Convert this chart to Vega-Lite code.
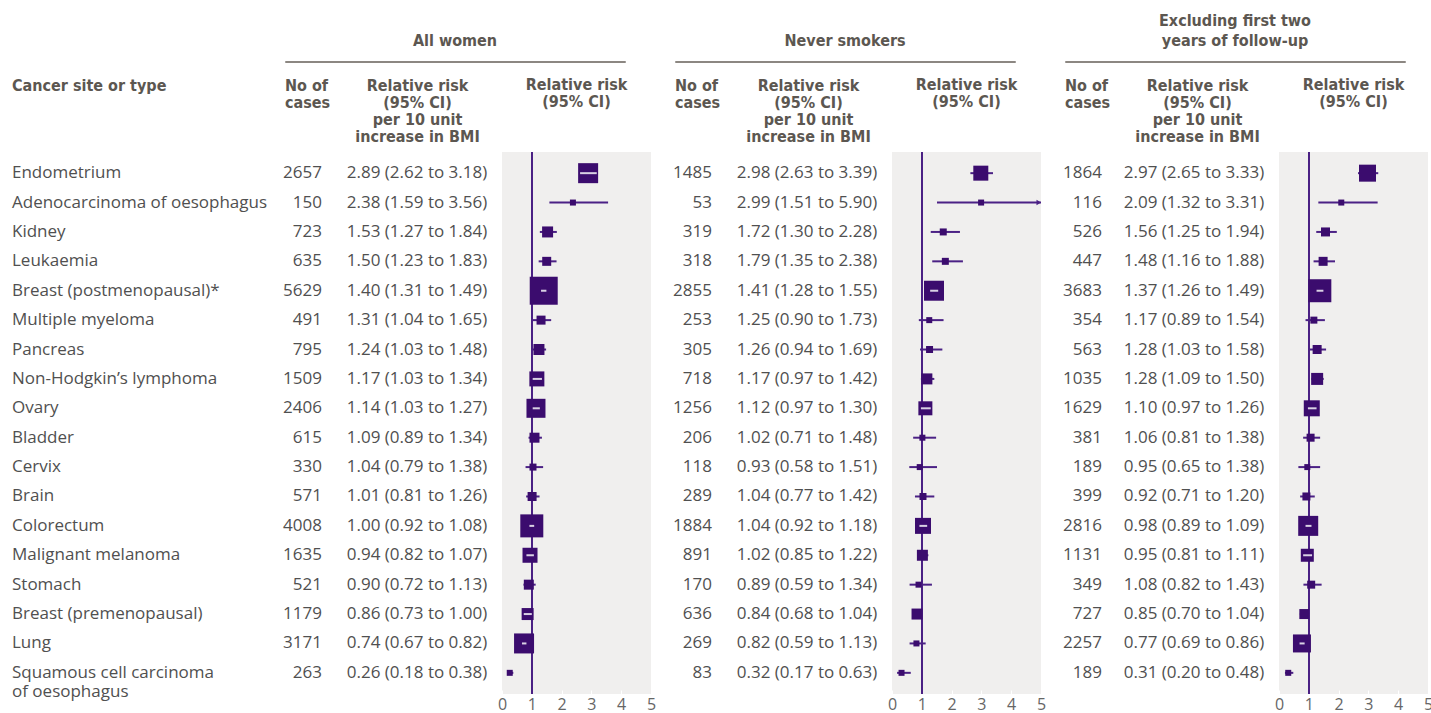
{
  "$schema": "https://vega.github.io/schema/vega-lite/v6.json",
  "padding": {"left": 12, "top": 12, "right": 0, "bottom": 10},
  "bounds": "flush",
  "spacing": 91,
  "config": {
    "view": {"stroke": null},
    "font": "Open Sans",
    "text": {"font": "Open Sans", "fontSize": 17, "color": "#505050"},
    "title": {"font": "DejaVu Sans Condensed, Roboto, sans-serif", "fontSize": 16, "fontWeight": "bold", "color": "#5c5751", "lineHeight": 17, "frame": "group"},
    "axisX": {"domain": false, "grid": false, "tickColor": "#ffffff", "tickSize": -4, "tickCount": 5, "labelFont": "Open Sans", "labelFontSize": 16, "labelColor": "#666666", "labelPadding": 6, "labelFlush": false}
  },
  "datasets": {
    "d": [
      {"g": "AW", "site": "Endometrium", "n": 2657, "rr": 2.89, "lo": 2.62, "hi": 3.18, "w": 20, "ci": "2.89 (2.62 to 3.18)"},
      {"g": "AW", "site": "Adenocarcinoma of oesophagus", "n": 150, "rr": 2.38, "lo": 1.59, "hi": 3.56, "w": 6, "ci": "2.38 (1.59 to 3.56)"},
      {"g": "AW", "site": "Kidney", "n": 723, "rr": 1.53, "lo": 1.27, "hi": 1.84, "w": 11, "ci": "1.53 (1.27 to 1.84)"},
      {"g": "AW", "site": "Leukaemia", "n": 635, "rr": 1.50, "lo": 1.23, "hi": 1.83, "w": 9, "ci": "1.50 (1.23 to 1.83)"},
      {"g": "AW", "site": "Breast (postmenopausal)*", "n": 5629, "rr": 1.40, "lo": 1.31, "hi": 1.49, "w": 28, "ci": "1.40 (1.31 to 1.49)"},
      {"g": "AW", "site": "Multiple myeloma", "n": 491, "rr": 1.31, "lo": 1.04, "hi": 1.65, "w": 9, "ci": "1.31 (1.04 to 1.65)"},
      {"g": "AW", "site": "Pancreas", "n": 795, "rr": 1.24, "lo": 1.03, "hi": 1.48, "w": 11, "ci": "1.24 (1.03 to 1.48)"},
      {"g": "AW", "site": "Non-Hodgkin’s lymphoma", "n": 1509, "rr": 1.17, "lo": 1.03, "hi": 1.34, "w": 15, "ci": "1.17 (1.03 to 1.34)"},
      {"g": "AW", "site": "Ovary", "n": 2406, "rr": 1.14, "lo": 1.03, "hi": 1.27, "w": 19, "ci": "1.14 (1.03 to 1.27)"},
      {"g": "AW", "site": "Bladder", "n": 615, "rr": 1.09, "lo": 0.89, "hi": 1.34, "w": 10, "ci": "1.09 (0.89 to 1.34)"},
      {"g": "AW", "site": "Cervix", "n": 330, "rr": 1.04, "lo": 0.79, "hi": 1.38, "w": 7, "ci": "1.04 (0.79 to 1.38)"},
      {"g": "AW", "site": "Brain", "n": 571, "rr": 1.01, "lo": 0.81, "hi": 1.26, "w": 9, "ci": "1.01 (0.81 to 1.26)"},
      {"g": "AW", "site": "Colorectum", "n": 4008, "rr": 1.00, "lo": 0.92, "hi": 1.08, "w": 23, "ci": "1.00 (0.92 to 1.08)"},
      {"g": "AW", "site": "Malignant melanoma", "n": 1635, "rr": 0.94, "lo": 0.82, "hi": 1.07, "w": 15, "ci": "0.94 (0.82 to 1.07)"},
      {"g": "AW", "site": "Stomach", "n": 521, "rr": 0.90, "lo": 0.72, "hi": 1.13, "w": 10, "ci": "0.90 (0.72 to 1.13)"},
      {"g": "AW", "site": "Breast (premenopausal)", "n": 1179, "rr": 0.86, "lo": 0.73, "hi": 1.00, "w": 12, "ci": "0.86 (0.73 to 1.00)"},
      {"g": "AW", "site": "Lung", "n": 3171, "rr": 0.74, "lo": 0.67, "hi": 0.82, "w": 20, "ci": "0.74 (0.67 to 0.82)"},
      {"g": "AW", "site": "Squamous cell carcinoma\nof oesophagus", "n": 263, "rr": 0.26, "lo": 0.18, "hi": 0.38, "w": 6, "ci": "0.26 (0.18 to 0.38)"},

      {"g": "NS", "site": "Endometrium", "n": 1485, "rr": 2.98, "lo": 2.63, "hi": 3.39, "w": 15, "ci": "2.98 (2.63 to 3.39)"},
      {"g": "NS", "site": "Adenocarcinoma of oesophagus", "n": 53, "rr": 2.99, "lo": 1.51, "hi": 5.90, "w": 6, "ci": "2.99 (1.51 to 5.90)"},
      {"g": "NS", "site": "Kidney", "n": 319, "rr": 1.72, "lo": 1.30, "hi": 2.28, "w": 7, "ci": "1.72 (1.30 to 2.28)"},
      {"g": "NS", "site": "Leukaemia", "n": 318, "rr": 1.79, "lo": 1.35, "hi": 2.38, "w": 7, "ci": "1.79 (1.35 to 2.38)"},
      {"g": "NS", "site": "Breast (postmenopausal)*", "n": 2855, "rr": 1.41, "lo": 1.28, "hi": 1.55, "w": 20, "ci": "1.41 (1.28 to 1.55)"},
      {"g": "NS", "site": "Multiple myeloma", "n": 253, "rr": 1.25, "lo": 0.90, "hi": 1.73, "w": 6, "ci": "1.25 (0.90 to 1.73)"},
      {"g": "NS", "site": "Pancreas", "n": 305, "rr": 1.26, "lo": 0.94, "hi": 1.69, "w": 7, "ci": "1.26 (0.94 to 1.69)"},
      {"g": "NS", "site": "Non-Hodgkin’s lymphoma", "n": 718, "rr": 1.17, "lo": 0.97, "hi": 1.42, "w": 11, "ci": "1.17 (0.97 to 1.42)"},
      {"g": "NS", "site": "Ovary", "n": 1256, "rr": 1.12, "lo": 0.97, "hi": 1.30, "w": 14, "ci": "1.12 (0.97 to 1.30)"},
      {"g": "NS", "site": "Bladder", "n": 206, "rr": 1.02, "lo": 0.71, "hi": 1.48, "w": 6, "ci": "1.02 (0.71 to 1.48)"},
      {"g": "NS", "site": "Cervix", "n": 118, "rr": 0.93, "lo": 0.58, "hi": 1.51, "w": 6, "ci": "0.93 (0.58 to 1.51)"},
      {"g": "NS", "site": "Brain", "n": 289, "rr": 1.04, "lo": 0.77, "hi": 1.42, "w": 7, "ci": "1.04 (0.77 to 1.42)"},
      {"g": "NS", "site": "Colorectum", "n": 1884, "rr": 1.04, "lo": 0.92, "hi": 1.18, "w": 16, "ci": "1.04 (0.92 to 1.18)"},
      {"g": "NS", "site": "Malignant melanoma", "n": 891, "rr": 1.02, "lo": 0.85, "hi": 1.22, "w": 11, "ci": "1.02 (0.85 to 1.22)"},
      {"g": "NS", "site": "Stomach", "n": 170, "rr": 0.89, "lo": 0.59, "hi": 1.34, "w": 6, "ci": "0.89 (0.59 to 1.34)"},
      {"g": "NS", "site": "Breast (premenopausal)", "n": 636, "rr": 0.84, "lo": 0.68, "hi": 1.04, "w": 11, "ci": "0.84 (0.68 to 1.04)"},
      {"g": "NS", "site": "Lung", "n": 269, "rr": 0.82, "lo": 0.59, "hi": 1.13, "w": 6, "ci": "0.82 (0.59 to 1.13)"},
      {"g": "NS", "site": "Squamous cell carcinoma\nof oesophagus", "n": 83, "rr": 0.32, "lo": 0.17, "hi": 0.63, "w": 6, "ci": "0.32 (0.17 to 0.63)"},

      {"g": "EX", "site": "Endometrium", "n": 1864, "rr": 2.97, "lo": 2.65, "hi": 3.33, "w": 17, "ci": "2.97 (2.65 to 3.33)"},
      {"g": "EX", "site": "Adenocarcinoma of oesophagus", "n": 116, "rr": 2.09, "lo": 1.32, "hi": 3.31, "w": 6, "ci": "2.09 (1.32 to 3.31)"},
      {"g": "EX", "site": "Kidney", "n": 526, "rr": 1.56, "lo": 1.25, "hi": 1.94, "w": 9, "ci": "1.56 (1.25 to 1.94)"},
      {"g": "EX", "site": "Leukaemia", "n": 447, "rr": 1.48, "lo": 1.16, "hi": 1.88, "w": 9, "ci": "1.48 (1.16 to 1.88)"},
      {"g": "EX", "site": "Breast (postmenopausal)*", "n": 3683, "rr": 1.37, "lo": 1.26, "hi": 1.49, "w": 23, "ci": "1.37 (1.26 to 1.49)"},
      {"g": "EX", "site": "Multiple myeloma", "n": 354, "rr": 1.17, "lo": 0.89, "hi": 1.54, "w": 7, "ci": "1.17 (0.89 to 1.54)"},
      {"g": "EX", "site": "Pancreas", "n": 563, "rr": 1.28, "lo": 1.03, "hi": 1.58, "w": 9, "ci": "1.28 (1.03 to 1.58)"},
      {"g": "EX", "site": "Non-Hodgkin’s lymphoma", "n": 1035, "rr": 1.28, "lo": 1.09, "hi": 1.50, "w": 12, "ci": "1.28 (1.09 to 1.50)"},
      {"g": "EX", "site": "Ovary", "n": 1629, "rr": 1.10, "lo": 0.97, "hi": 1.26, "w": 16, "ci": "1.10 (0.97 to 1.26)"},
      {"g": "EX", "site": "Bladder", "n": 381, "rr": 1.06, "lo": 0.81, "hi": 1.38, "w": 8, "ci": "1.06 (0.81 to 1.38)"},
      {"g": "EX", "site": "Cervix", "n": 189, "rr": 0.95, "lo": 0.65, "hi": 1.38, "w": 6, "ci": "0.95 (0.65 to 1.38)"},
      {"g": "EX", "site": "Brain", "n": 399, "rr": 0.92, "lo": 0.71, "hi": 1.20, "w": 8, "ci": "0.92 (0.71 to 1.20)"},
      {"g": "EX", "site": "Colorectum", "n": 2816, "rr": 0.98, "lo": 0.89, "hi": 1.09, "w": 20, "ci": "0.98 (0.89 to 1.09)"},
      {"g": "EX", "site": "Malignant melanoma", "n": 1131, "rr": 0.95, "lo": 0.81, "hi": 1.11, "w": 13, "ci": "0.95 (0.81 to 1.11)"},
      {"g": "EX", "site": "Stomach", "n": 349, "rr": 1.08, "lo": 0.82, "hi": 1.43, "w": 8, "ci": "1.08 (0.82 to 1.43)"},
      {"g": "EX", "site": "Breast (premenopausal)", "n": 727, "rr": 0.85, "lo": 0.70, "hi": 1.04, "w": 10, "ci": "0.85 (0.70 to 1.04)"},
      {"g": "EX", "site": "Lung", "n": 2257, "rr": 0.77, "lo": 0.69, "hi": 0.86, "w": 18, "ci": "0.77 (0.69 to 0.86)"},
      {"g": "EX", "site": "Squamous cell carcinoma\nof oesophagus", "n": 189, "rr": 0.31, "lo": 0.20, "hi": 0.48, "w": 6, "ci": "0.31 (0.20 to 0.48)"}
    ]
  },
  "vconcat": [
    {
      "spacing": 0,
      "bounds": "flush",
      "hconcat": [
        {"width": 273, "height": 1, "data": {"values": []}, "mark": "text", "encoding": {}},
        {"width": 340, "height": 1, "data": {"values": []}, "mark": "text", "encoding": {}, "view": {"stroke": "#8c8782", "strokeWidth": 1}, "title": {"text": ["", "All women"], "anchor": "middle", "offset": 12, "lineHeight": 20}},
        {"width": 50, "height": 1, "data": {"values": []}, "mark": "text", "encoding": {}},
        {"width": 340, "height": 1, "data": {"values": []}, "mark": "text", "encoding": {}, "view": {"stroke": "#8c8782", "strokeWidth": 1}, "title": {"text": ["", "Never smokers"], "anchor": "middle", "offset": 12, "lineHeight": 20}},
        {"width": 50, "height": 1, "data": {"values": []}, "mark": "text", "encoding": {}},
        {"width": 340, "height": 1, "data": {"values": []}, "mark": "text", "encoding": {}, "view": {"stroke": "#8c8782", "strokeWidth": 1}, "title": {"text": ["Excluding first two", "years of follow-up"], "anchor": "middle", "offset": 12, "lineHeight": 20}}
      ]
    },
    {
      "spacing": 0,
      "bounds": "flush",
      "hconcat": [
        {
          "width": 273, "height": 542,
          "data": {"name": "d"},
          "transform": [{"filter": "datum.g === 'AW'"}],
          "title": {"text": ["Cancer site or type", "", "", ""], "anchor": "start", "offset": 7},
          "mark": {"type": "text", "align": "left", "baseline": "middle", "lineBreak": "\n", "lineHeight": 19, "x": 0},
          "encoding": {
            "y": {"field": "site", "type": "nominal", "sort": null, "axis": null, "scale": {"type": "point", "padding": 0.72}},
            "text": {"field": "site", "type": "nominal"}
          }
        },
        {
          "width": 58, "height": 542,
          "data": {"name": "d"},
          "transform": [{"filter": "datum.g === 'AW'"}],
          "title": {"text": ["No of", "cases", "", ""], "anchor": "start", "offset": 7},
          "mark": {"type": "text", "align": "right", "baseline": "middle", "x": "width", "dx": -21},
          "encoding": {
            "y": {"field": "site", "type": "nominal", "sort": null, "axis": null, "scale": {"type": "point", "padding": 0.72}},
            "text": {"field": "n", "type": "quantitative", "format": "d"}
          }
        },
        {
          "width": 159, "height": 542,
          "data": {"name": "d"},
          "transform": [{"filter": "datum.g === 'AW'"}],
          "title": {"text": ["Relative risk", "(95% CI)", "per 10 unit", "increase in BMI"], "anchor": "middle", "offset": 7, "dx": -5},
          "mark": {"type": "text", "align": "center", "baseline": "middle", "x": 74},
          "encoding": {
            "y": {"field": "site", "type": "nominal", "sort": null, "axis": null, "scale": {"type": "point", "padding": 0.72}},
            "text": {"field": "ci", "type": "nominal"}
          }
        },
        {
          "width": 149, "height": 542,
          "view": {"fill": "#f0efee", "stroke": null},
          "data": {"name": "d"},
          "transform": [{"filter": "datum.g === 'AW'"}],
          "title": {"text": ["Relative risk", "(95% CI)", "", ""], "anchor": "middle", "offset": 7},
          "encoding": {
            "y": {"field": "site", "type": "nominal", "sort": null, "axis": null, "scale": {"type": "point", "padding": 0.72}}
          },
          "layer": [
            {"mark": {"type": "rule", "color": "#4b2185", "strokeWidth": 1.5}, "encoding": {"y": null, "x": {"datum": 1, "type": "quantitative", "title": null, "scale": {"domain": [0, 5], "nice": false, "clamp": true}}}},
            {"mark": {"type": "rule", "color": "#4b2185", "strokeWidth": 2}, "encoding": {"x": {"field": "lo", "type": "quantitative", "title": null}, "x2": {"field": "hi"}}},
            {"transform": [{"filter": "datum.hi > 5"}], "mark": {"type": "point", "shape": "M-1,-0.6L0,0L-1,0.6Z", "filled": true, "opacity": 1, "size": 80, "color": "#4b2185"}, "encoding": {"x": {"field": "hi", "type": "quantitative", "title": null}}},
            {"mark": {"type": "square", "filled": true, "opacity": 1, "color": "#3b0c6e"}, "encoding": {"x": {"field": "rr", "type": "quantitative", "title": null}, "size": {"field": "w", "type": "quantitative", "legend": null, "scale": {"type": "pow", "exponent": 2, "domain": [0, 30], "range": [0, 900]}}}},
            {"transform": [{"filter": "(datum.hi - datum.lo) * 29.8 < datum.w - 1"}], "mark": {"type": "rule", "color": "#d9d1e4", "strokeWidth": 2}, "encoding": {"x": {"field": "lo", "type": "quantitative", "title": null}, "x2": {"field": "hi"}}}
          ]
        },
        {
          "width": 82, "height": 542,
          "data": {"name": "d"},
          "transform": [{"filter": "datum.g === 'NS'"}],
          "title": {"text": ["No of", "cases", "", ""], "anchor": "start", "offset": 7, "dx": 24},
          "mark": {"type": "text", "align": "right", "baseline": "middle", "x": "width", "dx": -21},
          "encoding": {
            "y": {"field": "site", "type": "nominal", "sort": null, "axis": null, "scale": {"type": "point", "padding": 0.72}},
            "text": {"field": "n", "type": "quantitative", "format": "d"}
          }
        },
        {
          "width": 159, "height": 542,
          "data": {"name": "d"},
          "transform": [{"filter": "datum.g === 'NS'"}],
          "title": {"text": ["Relative risk", "(95% CI)", "per 10 unit", "increase in BMI"], "anchor": "middle", "offset": 7, "dx": -4},
          "mark": {"type": "text", "align": "center", "baseline": "middle", "x": 74},
          "encoding": {
            "y": {"field": "site", "type": "nominal", "sort": null, "axis": null, "scale": {"type": "point", "padding": 0.72}},
            "text": {"field": "ci", "type": "nominal"}
          }
        },
        {
          "width": 149, "height": 542,
          "view": {"fill": "#f0efee", "stroke": null},
          "data": {"name": "d"},
          "transform": [{"filter": "datum.g === 'NS'"}],
          "title": {"text": ["Relative risk", "(95% CI)", "", ""], "anchor": "middle", "offset": 7},
          "encoding": {
            "y": {"field": "site", "type": "nominal", "sort": null, "axis": null, "scale": {"type": "point", "padding": 0.72}}
          },
          "layer": [
            {"mark": {"type": "rule", "color": "#4b2185", "strokeWidth": 1.5}, "encoding": {"y": null, "x": {"datum": 1, "type": "quantitative", "title": null, "scale": {"domain": [0, 5], "nice": false, "clamp": true}}}},
            {"mark": {"type": "rule", "color": "#4b2185", "strokeWidth": 2}, "encoding": {"x": {"field": "lo", "type": "quantitative", "title": null}, "x2": {"field": "hi"}}},
            {"transform": [{"filter": "datum.hi > 5"}], "mark": {"type": "point", "shape": "M-1,-0.6L0,0L-1,0.6Z", "filled": true, "opacity": 1, "size": 80, "color": "#4b2185"}, "encoding": {"x": {"field": "hi", "type": "quantitative", "title": null}}},
            {"mark": {"type": "square", "filled": true, "opacity": 1, "color": "#3b0c6e"}, "encoding": {"x": {"field": "rr", "type": "quantitative", "title": null}, "size": {"field": "w", "type": "quantitative", "legend": null, "scale": {"type": "pow", "exponent": 2, "domain": [0, 30], "range": [0, 900]}}}},
            {"transform": [{"filter": "(datum.hi - datum.lo) * 29.8 < datum.w - 1"}], "mark": {"type": "rule", "color": "#d9d1e4", "strokeWidth": 2}, "encoding": {"x": {"field": "lo", "type": "quantitative", "title": null}, "x2": {"field": "hi"}}}
          ]
        },
        {
          "width": 79, "height": 542,
          "data": {"name": "d"},
          "transform": [{"filter": "datum.g === 'EX'"}],
          "title": {"text": ["No of", "cases", "", ""], "anchor": "start", "offset": 7, "dx": 24},
          "mark": {"type": "text", "align": "right", "baseline": "middle", "x": "width", "dx": -18},
          "encoding": {
            "y": {"field": "site", "type": "nominal", "sort": null, "axis": null, "scale": {"type": "point", "padding": 0.72}},
            "text": {"field": "n", "type": "quantitative", "format": "d"}
          }
        },
        {
          "width": 159, "height": 542,
          "data": {"name": "d"},
          "transform": [{"filter": "datum.g === 'EX'"}],
          "title": {"text": ["Relative risk", "(95% CI)", "per 10 unit", "increase in BMI"], "anchor": "middle", "offset": 7, "dx": -2},
          "mark": {"type": "text", "align": "center", "baseline": "middle", "x": 74},
          "encoding": {
            "y": {"field": "site", "type": "nominal", "sort": null, "axis": null, "scale": {"type": "point", "padding": 0.72}},
            "text": {"field": "ci", "type": "nominal"}
          }
        },
        {
          "width": 149, "height": 542,
          "view": {"fill": "#f0efee", "stroke": null},
          "data": {"name": "d"},
          "transform": [{"filter": "datum.g === 'EX'"}],
          "title": {"text": ["Relative risk", "(95% CI)", "", ""], "anchor": "middle", "offset": 7},
          "encoding": {
            "y": {"field": "site", "type": "nominal", "sort": null, "axis": null, "scale": {"type": "point", "padding": 0.72}}
          },
          "layer": [
            {"mark": {"type": "rule", "color": "#4b2185", "strokeWidth": 1.5}, "encoding": {"y": null, "x": {"datum": 1, "type": "quantitative", "title": null, "scale": {"domain": [0, 5], "nice": false, "clamp": true}}}},
            {"mark": {"type": "rule", "color": "#4b2185", "strokeWidth": 2}, "encoding": {"x": {"field": "lo", "type": "quantitative", "title": null}, "x2": {"field": "hi"}}},
            {"transform": [{"filter": "datum.hi > 5"}], "mark": {"type": "point", "shape": "M-1,-0.6L0,0L-1,0.6Z", "filled": true, "opacity": 1, "size": 80, "color": "#4b2185"}, "encoding": {"x": {"field": "hi", "type": "quantitative", "title": null}}},
            {"mark": {"type": "square", "filled": true, "opacity": 1, "color": "#3b0c6e"}, "encoding": {"x": {"field": "rr", "type": "quantitative", "title": null}, "size": {"field": "w", "type": "quantitative", "legend": null, "scale": {"type": "pow", "exponent": 2, "domain": [0, 30], "range": [0, 900]}}}},
            {"transform": [{"filter": "(datum.hi - datum.lo) * 29.8 < datum.w - 1"}], "mark": {"type": "rule", "color": "#d9d1e4", "strokeWidth": 2}, "encoding": {"x": {"field": "lo", "type": "quantitative", "title": null}, "x2": {"field": "hi"}}}
          ]
        }
      ]
    }
  ]
}
